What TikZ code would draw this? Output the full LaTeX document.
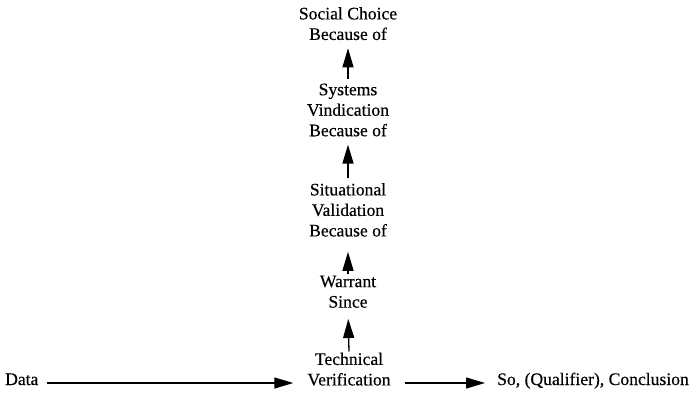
\documentclass[tikz,border=0pt]{standalone}
\usepackage{fontspec}
\setmainfont{Liberation Serif}
\newfontfamily\scanfont{Liberation Serif}[FakeBold=0.4]
\usetikzlibrary{arrows.meta}

\begin{document}
\begin{tikzpicture}[x=1pt,y=1pt,
  label/.style={align=center,inner sep=0pt,font=\scanfont\fontsize{17.6}{20.5}\selectfont},
  link/.style={-{Triangle[length=19pt,width=11pt]},line width=1.3pt}]
\useasboundingbox (0,0) rectangle (692,396);

% chain of backing
\node[label,anchor=north] (choice) at (348,389) {Social Choice\\Because of};
\node[label,anchor=north] (systems) at (348,312.6) {Systems\\Vindication\\Because of};
\node[label,anchor=north] (situational) at (348,213) {Situational\\Validation\\Because of};
\node[label,anchor=north] (warrant) at (348,120.6) {Warrant\\Since};
\node[label,anchor=north] (technical) at (349,43.5) {Technical\\Verification};

% data and conclusion
\node[label,anchor=base west] (data) at (5,11) {Data};
\node[label,anchor=base west] (conclusion) at (497,11) {So, (Qualifier), Conclusion};

% arrows
\draw[link,shorten <=1pt,shorten >=11pt] (technical.north) -- (warrant.south);
\draw[link,shorten <=1pt,shorten >=15pt] (warrant.north) -- (situational.south);
\draw[link,shorten <=5pt,shorten >=8pt] (situational.north) -- (systems.south);
\draw[link,shorten <=4pt,shorten >=8pt] (systems.north) -- (choice.south);
\draw[link,shorten <=8pt,shorten >=14pt] ([yshift=2pt]data.base east) -- ([yshift=2pt]data.base east -| technical.west);
\draw[link,shorten <=14pt,shorten >=12pt] ([yshift=2pt]conclusion.base west -| technical.east) -- ([yshift=2pt]conclusion.base west);
\end{tikzpicture}
\end{document}
